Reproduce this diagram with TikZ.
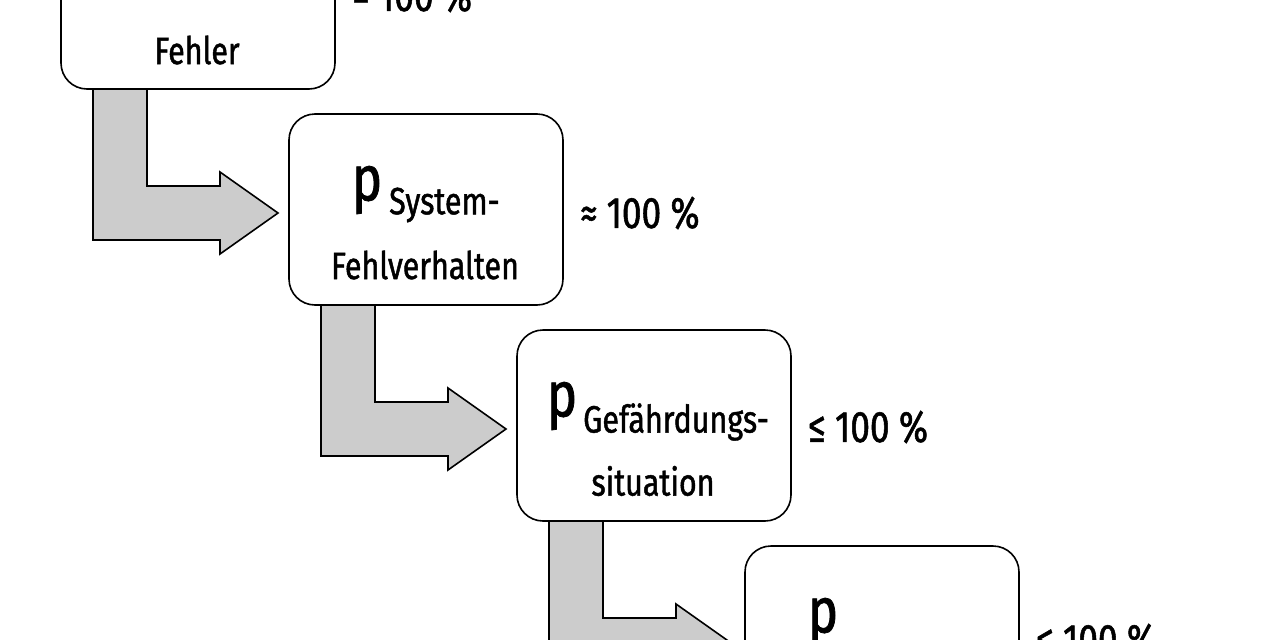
\documentclass[tikz,border=0pt]{standalone}
\usepackage{fontspec}
\setmainfont{Fira Sans}[FakeStretch=0.8,FakeBold=1.2]
\begin{document}
\begin{tikzpicture}[x=1pt,y=-1pt,
  box/.style={draw,line width=1.6pt,rounded corners=26pt,fill=white},
  arr/.style={draw,line width=1.6pt,fill=black!20,line join=miter},
  txt/.style={font=\fontsize{38}{40}\selectfont,inner sep=0pt},
  big/.style={font=\fontsize{64}{66}\selectfont,inner sep=0pt},
  lab/.style={font=\fontsize{44}{46}\selectfont,inner sep=0pt,anchor=west}]
\useasboundingbox (0,0) rectangle (1280,640);
\clip (0,0) rectangle (1280,640);
\foreach \i/\n in {0/a,1/b,2/c,3/d}{
  \begin{scope}[shift={(228*\i,216*\i)}]
  \draw[arr] (93,89) -- (147,89) -- (147,186) -- (220,186) -- (220,172) -- (278,213) -- (220,254) -- (220,240) -- (93,240) -- cycle;
  \draw[box] (61,-102) rectangle (335,89) coordinate (\n);
  \end{scope}}
\node[txt] (f1) at (197,50) {Fehler};
\node[lab] (l1) at (352,-4) {= 100 \%};
\node[big] (p2) at (367,190) {p};
\node[txt,anchor=west] (s2) at (389,205) {System-};
\node[txt] (f2) at (425,265) {Fehlverhalten};
\node[lab] (l2) at (580,213) {≈ 100 \%};
\node[big] (p3) at (562,406) {p};
\node[txt,anchor=west] (s3) at (583,422) {Gefährdungs-};
\node[txt] (f3) at (653,481) {situation};
\node[lab] (l3) at (808,427) {≤ 100 \%};
\node[big] (p4) at (823,622) {p};
\node[lab] (l4) at (1036,640) {≤ 100 \%};
\end{tikzpicture}
\end{document}
